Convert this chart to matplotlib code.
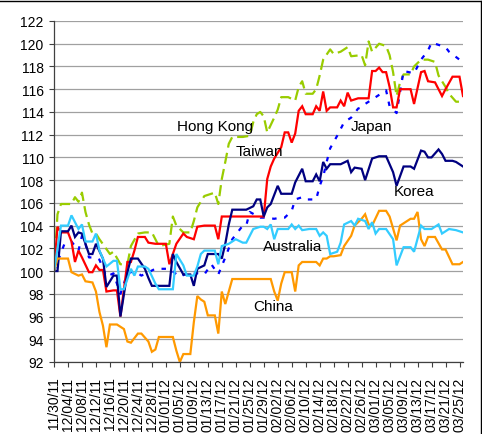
import matplotlib
matplotlib.use("Agg")
import matplotlib.pyplot as plt
import matplotlib.dates as mdates
from matplotlib.lines import Line2D
import pandas as pd

plt.rcParams['font.family'] = ['Liberation Sans', 'DejaVu Sans']

# --- Daten: Tage seit 30.11.2011 und Indexwerte (Start = 100) ---
start = pd.Timestamp("2011-11-30")

hk_days = [0, 1, 2, 5, 6, 7, 8, 9, 10, 11, 12, 13, 16, 17, 19, 21, 22, 24, 26, 28, 29, 30, 33, 34, 35,
           37, 39, 40, 41, 43, 45, 46, 47, 48, 49, 50, 51, 54, 56, 57, 58, 59, 60, 61, 63, 64, 65, 67,
           69, 70, 71, 72, 74, 75, 76, 77, 79, 80, 82, 84, 85, 88, 89, 90, 91, 93, 95, 96, 97, 98, 99,
           100, 102, 103, 105, 107, 109, 110, 112, 113, 115, 117]
hk_vals = [100.0, 105.0, 105.9, 105.9, 106.5, 106.1, 106.9, 105.2, 104.1, 103.3, 103.3, 102.8, 101.5,
           101.7, 100.6, 100.6, 102.2, 103.3, 103.4, 103.4, 102.8, 102.2, 102.4, 104.8, 104.0, 103.4,
           103.4, 104.4, 105.6, 106.6, 106.8, 106.9, 105.9, 108.1, 109.6, 111.2, 111.8, 111.8, 111.9,
           113.1, 113.8, 114.0, 113.6, 112.2, 113.5, 114.2, 115.3, 115.3, 115.0, 116.2, 116.7, 115.6,
           115.6, 116.0, 117.2, 118.6, 119.5, 119.1, 119.3, 119.7, 118.9, 119.0, 118.1, 120.2, 119.3,
           120.0, 119.8, 119.0, 117.5, 115.4, 116.6, 117.3, 117.3, 118.0, 118.6, 118.6, 118.4, 117.2,
           116.2, 115.6, 114.9, 114.9]

tw_days = [0, 1, 2, 4, 5, 6, 7, 8, 10, 11, 12, 13, 14, 15, 17, 18, 19, 21, 22, 23, 24, 26, 27, 29, 32,
           33, 35, 37, 38, 40, 41, 43, 46, 47, 48, 60, 61, 62, 63, 65, 66, 67, 68, 69, 70, 71, 72, 74,
           75, 76, 77, 78, 79, 81, 82, 83, 84, 85, 87, 90, 91, 92, 93, 94, 95, 96, 97, 98, 99, 102,
           103, 105, 106, 107, 109, 111, 112, 114, 116, 117]
tw_vals = [100.0, 103.9, 103.4, 103.4, 102.6, 100.8, 101.8, 101.2, 99.9, 99.9, 100.5, 100.1, 100.1,
           98.2, 98.3, 98.3, 96.0, 100.8, 100.8, 101.8, 103.0, 103.0, 102.5, 102.4, 102.4, 100.6, 102.4,
           103.3, 103.0, 102.8, 103.9, 104.0, 104.0, 102.8, 104.8, 104.8, 108.1, 109.2, 109.9, 110.9,
           112.2, 112.2, 111.3, 112.1, 114.1, 114.5, 113.8, 113.8, 114.5, 114.1, 115.8, 114.1, 114.4,
           114.4, 115.0, 114.5, 115.7, 115.0, 115.2, 115.2, 117.6, 117.6, 117.9, 117.5, 117.5, 116.2,
           114.4, 114.4, 116.0, 116.0, 114.7, 117.5, 117.6, 116.7, 116.6, 115.4, 116.0, 117.1, 117.1,
           115.4]

jp_days = [0, 3, 5, 7, 8, 9, 10, 12, 13, 15, 17, 19, 21, 23, 25, 29, 33, 36, 38, 39, 43, 45, 47, 49,
           51, 54, 55, 56, 59, 60, 63, 65, 66, 68, 69, 71, 72, 75, 76, 77, 78, 79, 81, 83, 85, 87, 88,
           89, 92, 95, 96, 98, 100, 103, 105, 107, 108, 112, 113, 116, 117]
jp_vals = [100.0, 102.4, 102.6, 101.8, 103.1, 102.4, 101.2, 101.2, 101.0, 99.5, 99.8, 98.0, 99.8, 100.0,
           99.6, 100.2, 100.2, 99.5, 99.8, 99.9, 99.7, 100.6, 99.7, 101.2, 102.8, 104.0, 104.0, 105.2,
           104.7, 104.7, 104.6, 104.7, 104.7, 105.3, 106.3, 106.5, 106.3, 106.3, 107.5, 108.3, 109.6,
           110.8, 111.9, 113.1, 113.5, 114.3, 114.4, 114.7, 115.3, 115.9, 114.5, 113.9, 117.6, 117.4,
           118.6, 119.4, 120.1, 119.7, 119.3, 118.6, 118.6]

kr_days = [0, 1, 2, 4, 5, 6, 7, 8, 10, 11, 12, 14, 15, 17, 18, 19, 21, 22, 24, 26, 27, 28, 29, 33, 34,
           35, 37, 39, 40, 41, 43, 44, 47, 48, 49, 50, 51, 55, 57, 58, 59, 60, 61, 62, 64, 65, 68, 69,
           71, 72, 74, 75, 76, 77, 78, 79, 82, 84, 85, 86, 88, 89, 91, 93, 95, 97, 98, 100, 102, 103,
           105, 106, 107, 108, 110, 111, 112, 114, 115, 117]
kr_vals = [100.0, 100.0, 103.5, 103.5, 104.0, 103.0, 103.4, 103.3, 101.5, 101.5, 102.4, 101.1, 98.6,
           99.6, 99.6, 96.0, 99.9, 101.1, 101.1, 100.2, 99.4, 98.7, 98.7, 98.7, 101.5, 100.8, 99.7, 99.7,
           98.7, 100.2, 100.5, 101.5, 101.5, 101.1, 102.4, 104.1, 105.4, 105.4, 105.7, 106.3, 106.3,
           104.8, 105.6, 105.9, 107.5, 106.8, 106.8, 107.8, 109.0, 107.9, 107.9, 108.5, 107.9, 109.6,
           109.0, 109.4, 109.4, 109.7, 108.7, 109.1, 109.0, 108.0, 109.9, 110.1, 110.1, 108.7, 107.5,
           109.2, 109.2, 109.0, 110.6, 110.5, 110.0, 110.0, 110.7, 110.3, 109.7, 109.7, 109.6, 109.2]

au_days = [0, 2, 4, 5, 7, 8, 9, 11, 12, 13, 15, 17, 18, 19, 20, 22, 23, 24, 26, 27, 29, 30, 34, 35, 37,
           38, 40, 41, 42, 43, 46, 47, 48, 50, 52, 54, 55, 57, 59, 60, 61, 62, 63, 64, 67, 68, 69, 70,
           71, 73, 75, 76, 77, 78, 79, 81, 82, 83, 85, 86, 87, 89, 90, 91, 92, 93, 95, 97, 98, 100,
           102, 103, 105, 106, 108, 110, 111, 113, 115, 117]
au_vals = [100.0, 104.0, 104.0, 104.9, 103.7, 104.1, 102.6, 102.6, 103.3, 101.8, 100.4, 100.9, 100.9,
           98.4, 98.4, 100.2, 99.6, 100.4, 100.4, 100.2, 98.9, 98.4, 98.4, 101.5, 100.5, 99.6, 99.6,
           100.4, 101.5, 101.8, 101.8, 100.6, 102.2, 102.4, 102.8, 102.5, 102.5, 103.7, 103.9, 103.9,
           103.7, 104.1, 102.8, 103.7, 103.7, 104.1, 103.7, 104.0, 103.6, 103.7, 103.7, 103.1, 103.4,
           103.1, 101.5, 101.7, 102.5, 104.1, 104.4, 104.0, 104.6, 104.4, 103.7, 104.3, 103.3, 103.7,
           103.7, 102.8, 100.5, 102.1, 102.1, 101.7, 104.0, 103.7, 103.7, 104.1, 103.3, 103.7, 103.6,
           103.4]

cn_days = [0, 1, 4, 5, 7, 8, 9, 11, 12, 13, 14, 15, 16, 18, 20, 21, 22, 24, 25, 27, 28, 29, 30, 34, 35,
           36, 37, 39, 40, 41, 42, 43, 44, 46, 47, 48, 49, 51, 62, 63, 64, 65, 66, 68, 69, 70, 71, 75,
           76, 77, 78, 79, 80, 82, 83, 85, 86, 88, 89, 90, 91, 93, 95, 96, 98, 99, 102, 103, 104, 105,
           106, 107, 109, 111, 112, 114, 116, 117]
cn_vals = [100.0, 101.1, 101.1, 99.9, 99.6, 99.7, 99.1, 99.0, 98.2, 96.4, 95.2, 93.3, 95.3, 95.3, 94.9,
           93.8, 93.7, 94.5, 94.5, 93.8, 92.9, 93.1, 94.2, 94.2, 93.0, 92.0, 92.7, 92.7, 95.5, 97.8,
           97.5, 97.3, 96.1, 96.1, 94.5, 98.2, 97.1, 99.3, 99.3, 98.2, 97.4, 98.9, 99.9, 99.9, 98.2,
           100.5, 100.8, 100.8, 100.5, 101.1, 101.1, 101.3, 101.3, 101.4, 102.2, 103.1, 104.0, 104.6,
           105.0, 104.1, 104.0, 105.3, 105.3, 104.8, 102.7, 104.0, 104.6, 104.6, 105.2, 102.8, 102.2,
           103.0, 103.0, 101.9, 101.9, 100.6, 100.6, 100.8]

# Reihenfolge = Zeichenreihenfolge (spaeter = oben)
reihen = [
    ("Hong Kong", hk_days, hk_vals, "#99CC00", (0, (5, 2.4))),
    ("Japan", jp_days, jp_vals, "#0000FF", (0, (2, 3.4))),
    ("Taiwan", tw_days, tw_vals, "#FF0000", "-"),
    ("Korea", kr_days, kr_vals, "#000080", "-"),
    ("China", cn_days, cn_vals, "#FF9900", "-"),
    ("Australia", au_days, au_vals, "#33CCFF", "-"),
]

# Beschriftungen im Diagramm: (Text, Tag, Wert)
labels = [
    ("Hong Kong", 35.1, 112.75),
    ("Taiwan", 52.0, 110.6),
    ("Japan", 85.0, 112.75),
    ("Korea", 97.2, 107.0),
    ("Australia", 59.7, 102.2),
    ("China", 57.0, 96.9),
]

def tage(d):
    return start + pd.to_timedelta(d, unit="D")

fig = plt.figure(figsize=(4.82, 4.35), dpi=100)
ax = fig.add_axes([54 / 482, 72 / 435, 409 / 482, 341 / 435])

for name, d, v, farbe, stil in reihen:
    ax.plot(tage(d), v, color=farbe, linestyle=stil, linewidth=1.6,
            solid_joinstyle="miter", dash_capstyle="butt")

for text, d, v in labels:
    ax.text(tage(d), v, text, fontsize=11, ha="left", va="center", color="black")

ax.set_ylim(92, 122)
ax.set_yticks(range(92, 123, 2))
ax.set_xlim(start, tage(117))
ax.set_xticks(tage(list(range(0, 117, 4))))
ax.xaxis.set_major_formatter(mdates.DateFormatter("%m/%d/%y"))
plt.setp(ax.get_xticklabels(), rotation=90, va="top", ha="center")

ax.grid(axis="y", color="#A0A0A0", linewidth=0.9)
ax.set_axisbelow(True)
for s in ("top", "right"):
    ax.spines[s].set_visible(False)
for s in ("left", "bottom"):
    ax.spines[s].set_color("#404040")
    ax.spines[s].set_linewidth(0.9)
ax.tick_params(axis="both", direction="out", length=3.5, width=0.8, color="#404040",
               labelsize=10, labelcolor="black")
ax.tick_params(axis="x", pad=7)
ax.tick_params(axis="y", pad=4)

# Rahmen oben und rechts
fig.add_artist(Line2D([0, 480.5 / 482], [1 - 2 / 435, 1 - 2 / 435], color="black", linewidth=1.0))
fig.add_artist(Line2D([480.5 / 482, 480.5 / 482], [0, 1 - 2 / 435], color="black", linewidth=1.0))

fig.savefig("out.png", dpi=100)
